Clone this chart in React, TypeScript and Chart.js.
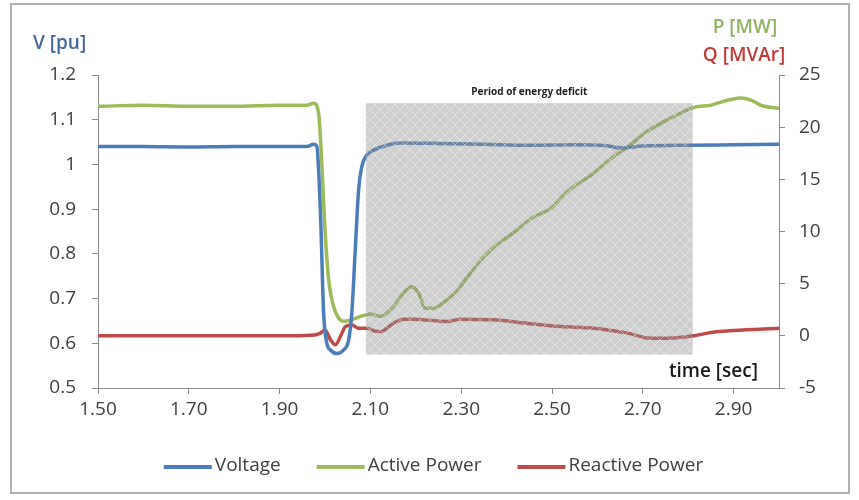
import React, { useEffect, useRef } from "react";
import { Chart, registerables } from "chart.js";

Chart.register(...registerables);

// ---- data ----
const voltageTime = [1.5, 1.6, 1.7, 1.8, 1.9, 1.96, 1.975, 1.982, 1.99, 1.997, 2.004, 2.012, 2.026, 2.041, 2.052, 2.059, 2.067, 2.074, 2.081, 2.092, 2.107, 2.136, 2.166, 2.25, 2.35, 2.45, 2.55, 2.62, 2.65, 2.7, 2.8, 2.9, 3.0];
const voltageValues = [1.04, 1.04, 1.039, 1.04, 1.04, 1.04, 1.045, 1.04, 0.891, 0.667, 0.6, 0.585, 0.577, 0.585, 0.607, 0.667, 0.816, 0.943, 0.995, 1.021, 1.032, 1.043, 1.048, 1.047, 1.045, 1.043, 1.044, 1.042, 1.037, 1.041, 1.043, 1.044, 1.045];

const activeTime = [1.5, 1.6, 1.7, 1.8, 1.9, 1.96, 1.975, 1.986, 1.993, 2.0, 2.008, 2.019, 2.03, 2.041, 2.056, 2.078, 2.1, 2.122, 2.151, 2.173, 2.191, 2.206, 2.221, 2.239, 2.269, 2.291, 2.313, 2.342, 2.372, 2.416, 2.46, 2.497, 2.533, 2.592, 2.636, 2.666, 2.71, 2.754, 2.813, 2.85, 2.864, 2.916, 2.938, 2.96, 3.0];
const activeValues = [22.0, 22.1, 22.0, 22.0, 22.1, 22.1, 22.3, 21.3, 16.5, 10.2, 5.4, 2.8, 1.7, 1.4, 1.5, 1.85, 2.1, 1.85, 2.8, 4.1, 4.7, 4.1, 2.65, 2.65, 3.45, 4.3, 5.6, 7.2, 8.5, 9.9, 11.4, 12.2, 13.8, 15.6, 17.2, 18.1, 19.6, 20.7, 21.9, 22.1, 22.3, 22.8, 22.6, 22.1, 21.8];

const reactiveTime = [1.5, 1.7, 1.9, 1.97, 1.99, 2.0, 2.012, 2.023, 2.034, 2.045, 2.059, 2.074, 2.092, 2.11, 2.122, 2.151, 2.173, 2.195, 2.269, 2.298, 2.372, 2.445, 2.519, 2.592, 2.666, 2.717, 2.754, 2.813, 2.85, 2.9, 3.0];
const reactiveValues = [0, 0, 0, 0.05, 0.26, 0.57, -0.38, -0.86, -0.06, 0.89, 1.05, 0.73, 0.73, 0.45, 0.41, 1.2, 1.6, 1.6, 1.37, 1.6, 1.53, 1.2, 0.89, 0.73, 0.26, -0.22, -0.22, 0, 0.32, 0.51, 0.73];

const xTickValues = [1.5, 1.7, 1.9, 2.1, 2.3, 2.5, 2.7, 2.9];
const seriesLabels = ["Voltage", "Active Power", "Reactive Power"];
const seriesColors = ["#4a7ebb", "#9bbb59", "#be4b48"];

const deficitStart = 2.09;
const deficitEnd = 2.81;
const deficitTop = 22.3;
const deficitBottom = -1.8;

const FONT = "'Open Sans', 'DejaVu Sans', sans-serif";

function makePattern(): CanvasPattern | string {
  const c = document.createElement("canvas");
  c.width = 10;
  c.height = 10;
  const p = c.getContext("2d");
  if (!p) return "rgba(140,140,140,0.42)";
  p.fillStyle = "rgba(140,140,140,0.42)";
  p.fillRect(0, 0, 10, 10);
  p.strokeStyle = "rgba(255,255,255,0.4)";
  p.lineWidth = 1;
  p.beginPath();
  p.moveTo(0, 0);
  p.lineTo(10, 10);
  p.moveTo(10, 0);
  p.lineTo(0, 10);
  p.stroke();
  const pat = p.createPattern(c, "repeat");
  return pat || "rgba(140,140,140,0.42)";
}

const deficitPlugin = {
  id: "deficitBox",
  afterDatasetsDraw(chart: any) {
    const { ctx, scales } = chart;
    const x = scales.x;
    const y = scales.yP;
    const x0 = x.getPixelForValue(deficitStart);
    const x1 = x.getPixelForValue(deficitEnd);
    const y0 = y.getPixelForValue(deficitTop);
    const y1 = y.getPixelForValue(deficitBottom);
    ctx.save();
    ctx.fillStyle = makePattern();
    ctx.fillRect(x0, y0, x1 - x0, y1 - y0);
    ctx.fillStyle = "#1e1e1e";
    ctx.font = `bold 10px ${FONT}`;
    ctx.textAlign = "center";
    ctx.textBaseline = "middle";
    ctx.fillText("Period of energy deficit", (x0 + x1) / 2, y0 - 11);
    ctx.restore();
  },
};

const decorPlugin = {
  id: "decor",
  afterDraw(chart: any) {
    const { ctx, chartArea, width } = chart;
    ctx.save();
    // outer frame
    ctx.strokeStyle = "#b0b0b0";
    ctx.lineWidth = 2;
    ctx.strokeRect(11, 4, 838, 489);

    ctx.textBaseline = "middle";
    ctx.font = `600 19px ${FONT}`;
    ctx.textAlign = "left";
    ctx.fillStyle = "#44679b";
    ctx.fillText("V [pu]", 33, 44);

    ctx.textAlign = "center";
    ctx.fillStyle = "#8fb35c";
    ctx.fillText("P [MW]", 745, 28);
    ctx.fillStyle = "#c03a36";
    ctx.fillText("Q [MVAr]", 744, 56);

    ctx.font = `600 19px ${FONT}`;
    ctx.textAlign = "right";
    ctx.fillStyle = "#1a1a1a";
    ctx.fillText("time [sec]", chartArea.right - 21, chartArea.bottom - 16);

    // legend
    ctx.font = `19px ${FONT}`;
    const lineW = 48;
    const gap = 3;
    const spacing = 36;
    const widths = seriesLabels.map((l) => lineW + gap + ctx.measureText(l).width);
    const total = widths.reduce((a, b) => a + b, 0) + spacing * (widths.length - 1);
    let cx = width / 2 - total / 2 + 4;
    const ly = 467;
    seriesLabels.forEach((label, i) => {
      ctx.strokeStyle = seriesColors[i];
      ctx.lineWidth = 4;
      ctx.beginPath();
      ctx.moveTo(cx, ly);
      ctx.lineTo(cx + lineW, ly);
      ctx.stroke();
      ctx.fillStyle = "#404040";
      ctx.textAlign = "left";
      ctx.fillText(label, cx + lineW + gap, ly - 1);
      cx += widths[i] + spacing;
    });
    ctx.restore();
  },
};

function toPoints(t: number[], v: number[]) {
  return t.map((tt, i) => ({ x: tt, y: v[i] }));
}

export default function App() {
  const ref = useRef<HTMLCanvasElement | null>(null);

  useEffect(() => {
    if (!ref.current) return;
    const axisColor = "#8a8a8a";
    const tickFont = { family: FONT, size: 19 };
    const chart = new Chart(ref.current, {
      type: "line",
      data: {
        datasets: [
          {
            label: seriesLabels[0],
            data: toPoints(voltageTime, voltageValues),
            borderColor: seriesColors[0],
            backgroundColor: seriesColors[0],
            yAxisID: "yV",
          },
          {
            label: seriesLabels[1],
            data: toPoints(activeTime, activeValues),
            borderColor: seriesColors[1],
            backgroundColor: seriesColors[1],
            yAxisID: "yP",
          },
          {
            label: seriesLabels[2],
            data: toPoints(reactiveTime, reactiveValues),
            borderColor: seriesColors[2],
            backgroundColor: seriesColors[2],
            yAxisID: "yP",
          },
        ],
      },
      options: {
        responsive: false,
        animation: false,
        parsing: false as any,
        layout: { padding: { top: 75, left: 0, right: 0, bottom: 0 } },
        elements: {
          point: { radius: 0, hoverRadius: 0 },
          line: { borderWidth: 3.5, cubicInterpolationMode: "monotone", borderCapStyle: "round", borderJoinStyle: "round" },
        },
        plugins: {
          legend: { display: false },
          tooltip: { enabled: false },
          title: { display: false },
        },
        scales: {
          x: {
            type: "linear",
            position: "bottom",
            min: 1.5,
            max: 3.0,
            afterBuildTicks: (s: any) => {
              s.ticks = xTickValues.map((v) => ({ value: v }));
            },
            afterFit: (s: any) => {
              s.height = 112;
            },
            ticks: {
              font: tickFont,
              color: "#404040",
              padding: 4,
              maxRotation: 0,
              autoSkip: false,
              callback: (v: any) => Number(v).toFixed(2),
            },
            grid: { drawOnChartArea: false, drawTicks: true, tickLength: 6, color: axisColor },
            border: { color: axisColor, width: 1 },
          },
          yV: {
            type: "linear",
            position: "left",
            min: 0.5,
            max: 1.2,
            afterFit: (s: any) => {
              s.width = 98;
            },
            ticks: {
              stepSize: 0.1,
              font: tickFont,
              color: "#404040",
              padding: 16,
              callback: (v: any) => String(Number(Number(v).toFixed(1))),
            },
            grid: { drawOnChartArea: false, drawTicks: true, tickLength: 6, color: axisColor },
            border: { color: axisColor, width: 1 },
          },
          yP: {
            type: "linear",
            position: "right",
            min: -5,
            max: 25,
            afterFit: (s: any) => {
              s.width = 80;
            },
            ticks: {
              stepSize: 5,
              font: tickFont,
              color: "#404040",
              padding: 14,
              callback: (v: any) => String(v),
            },
            grid: { drawOnChartArea: false, drawTicks: true, tickLength: 6, color: axisColor },
            border: { color: axisColor, width: 1 },
          },
        },
      },
      plugins: [deficitPlugin, decorPlugin],
    } as any);
    return () => chart.destroy();
  }, []);

  return (
    <div style={{ position: "absolute", left: 0, top: 0, width: 859, height: 500, background: "#fff" }}>
      <canvas ref={ref} width={859} height={500} style={{ display: "block" }} />
    </div>
  );
}
